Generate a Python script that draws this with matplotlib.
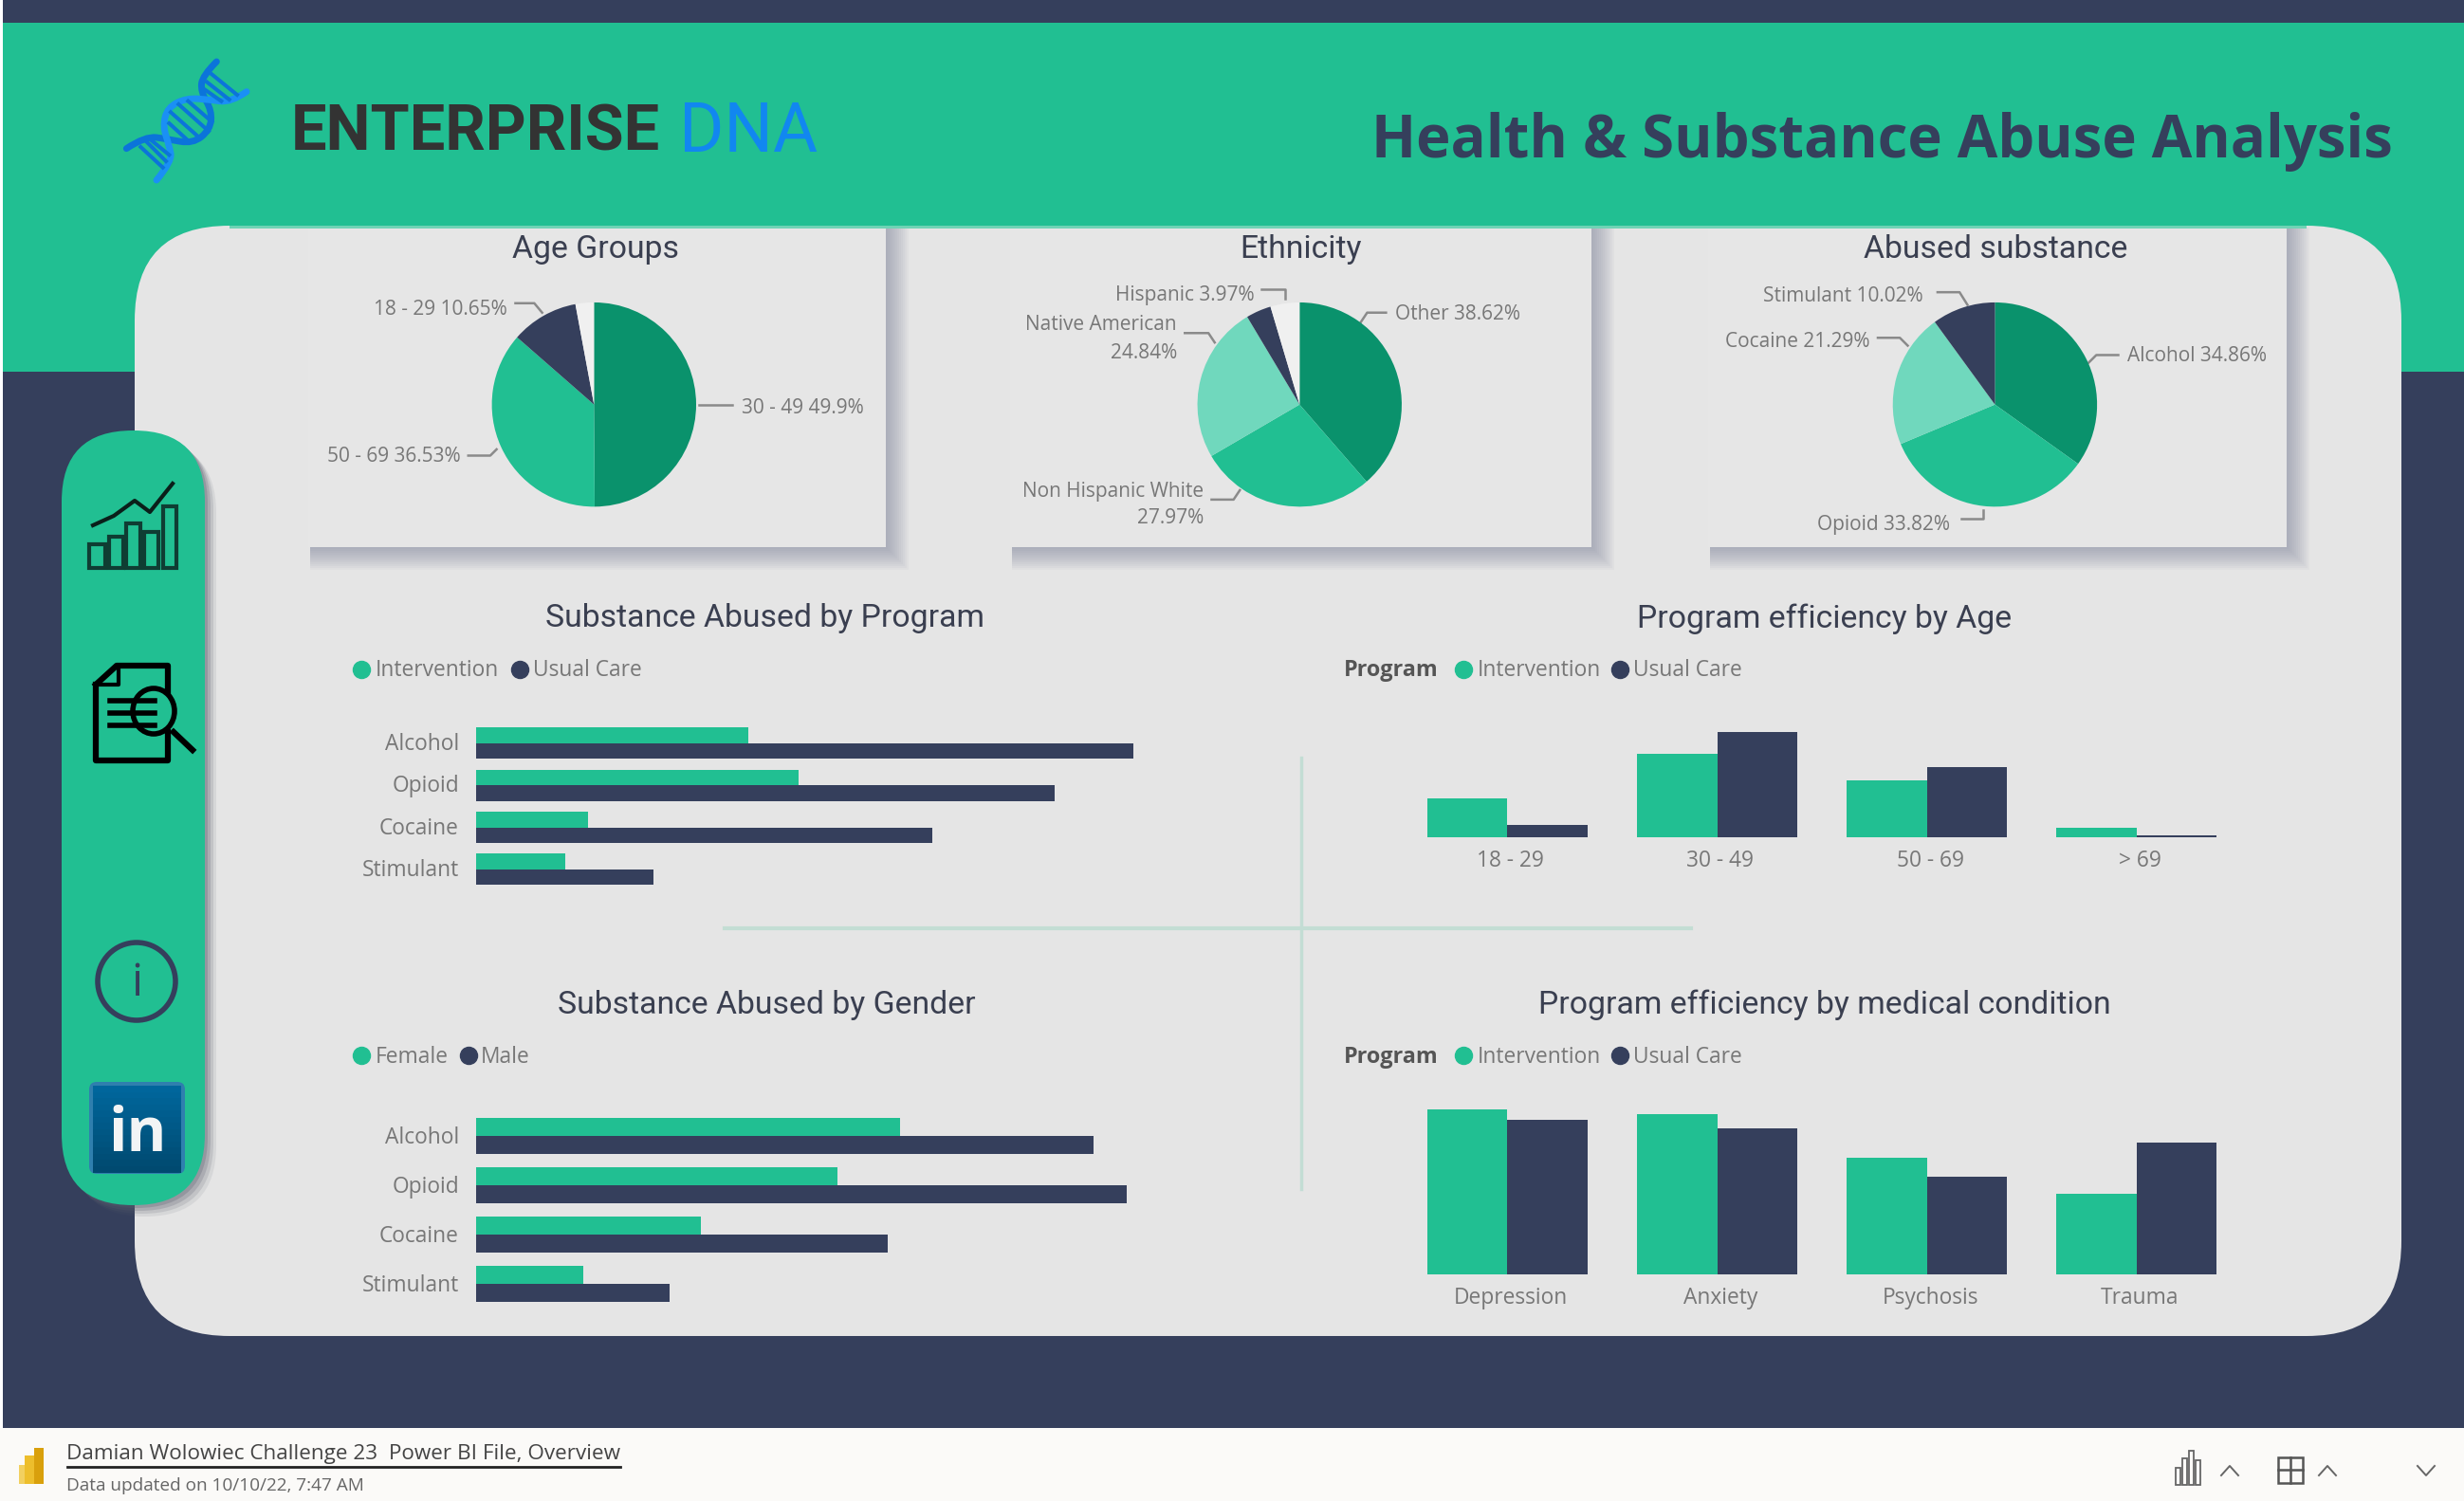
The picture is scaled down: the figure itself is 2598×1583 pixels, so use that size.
import numpy as np
import matplotlib
matplotlib.use("Agg")
import matplotlib.pyplot as plt
from matplotlib.patches import Rectangle, FancyBboxPatch, Ellipse, PathPatch
from matplotlib.path import Path
from matplotlib.transforms import ScaledTranslation

W, H = 2598, 1583
S = W / 1568  # the positions below were read on the 1568 wide view

NAVY = "#353F5C"
GREEN = "#21BF92"
DARK_GREEN = "#0A926C"
LIGHT_GREEN = "#70D8BD"
PANEL = "#E5E5E5"
GREY = "#777777"
TITLE = "#3A3F50"

# pies
age_labels = ["30 - 49", "50 - 69", "18 - 29", "> 69"]
age_values = [49.9, 36.53, 10.65, 2.92]
eth_labels = ["Other", "Non Hispanic White", "Native American", "Hispanic", "Unknown"]
eth_values = [38.62, 27.97, 24.84, 3.97, 4.6]
sub_labels = ["Alcohol", "Opioid", "Cocaine", "Stimulant"]
sub_values = [34.86, 33.82, 21.29, 10.02]

# bars (no axis in the picture, so values are relative lengths)
substances = ["Alcohol", "Opioid", "Cocaine", "Stimulant"]
prog_intervention = [173, 205, 71, 57]
prog_usual = [418, 368, 290, 113]
gender_female = [270, 230, 143, 68]
gender_male = [393, 414, 262, 123]
ages = ["18 - 29", "30 - 49", "50 - 69", "> 69"]
age_intervention = [25, 53, 36, 6]
age_usual = [8, 67, 45, 1]
conditions = ["Depression", "Anxiety", "Psychosis", "Trauma"]
cond_intervention = [105, 102, 74, 51]
cond_usual = [98, 93, 62, 84]

plt.rcParams["font.family"] = ["Open Sans", "DejaVu Sans"]

fig = plt.figure(figsize=(W / 100, H / 100), dpi=100)
bg = fig.add_axes([0, 0, 1, 1])
bg.set_xlim(0, W)
bg.set_ylim(H, 0)
bg.axis("off")


def px_axes(x0, y0, x1, y1):
    # axes from positions on the 1568 wide view
    return fig.add_axes([x0 * S / W, 1 - y1 * S / H, (x1 - x0) * S / W, (y1 - y0) * S / H])


def rect(x0, y0, x1, y1, color, **kw):
    bg.add_patch(Rectangle((x0, y0), x1 - x0, y1 - y0, fc=color, ec="none", **kw))


def round_rect(x0, y0, x1, y1, r, color, **kw):
    bg.add_patch(FancyBboxPatch((x0 + r, y0 + r), x1 - x0 - 2 * r, y1 - y0 - 2 * r,
                                boxstyle=f"round,pad={r},rounding_size={r}",
                                fc=color, ec="none", **kw))


def label(x, y, s, size=15, color=GREY, ha="left", **kw):
    bg.text(x * S, (y + 0.8) * S, s, fontsize=size, color=color, ha=ha, va="center", **kw)


def leader(xs, ys):
    bg.plot(np.array(xs) * S, np.array(ys) * S, color="#8A8A8A", lw=1.8)


def strand(points, color):
    # smooth curve through zoomed logo points
    p = [(110 + x / 3, 50 + y / 3) for x, y in points]
    verts = [p[0]]
    codes = [Path.MOVETO]
    for a, b in zip(p[1:-1], p[2:]):
        verts += [a, ((a[0] + b[0]) / 2, (a[1] + b[1]) / 2)]
        codes += [Path.CURVE3, Path.CURVE3]
    verts[-1] = p[-1]
    bg.add_patch(PathPatch(Path(verts, codes), fc="none", ec=color, lw=5, capstyle="round"))


# background bands
rect(0, 0, W, H, "#FFFFFF")
rect(3, 0, W, 24, NAVY)
rect(3, 24, W, 392, GREEN)
rect(3, 392, W, 1506, NAVY)
rect(0, 1506, W, H, "#FBFAF8")
round_rect(142, 238, 2532, 1409, 100, PANEL)

# side bar
for off, alpha in [(12, 0.10), (9, 0.16), (6, 0.22), (3, 0.28)]:
    round_rect(65 + off, 454 + off, 216 + off, 1271 + off, 75, "#5A5D6E", alpha=alpha)
round_rect(65, 454, 216, 1271, 75, GREEN)

# icons
for x0, x1, top in [(94, 111, 574), (115, 130, 566), (133, 148, 552), (152, 167, 561), (172, 186, 534)]:
    bg.add_patch(Rectangle((x0, top), x1 - x0, 599 - top, fc="none", ec="#0F3D33", lw=3))
bg.plot([98, 120, 142, 158, 182], [554, 544, 528, 540, 510], color="#0A1F1A", lw=3)

bg.plot([101, 123, 177, 177], [722, 702, 702, 730], color="black", lw=4.5)
bg.plot([101, 101, 177, 177], [722, 802, 802, 772], color="black", lw=4.5)
bg.plot([101, 125, 125], [722, 722, 702], color="black", lw=3)
for y in [739, 752, 765]:
    bg.plot([116, 163], [y, y], color="black", lw=4)
bg.add_patch(Ellipse((162, 750), 44, 48, fc="none", ec="black", lw=4))
bg.plot([183, 203], [772, 791], color="black", lw=4.5)

bg.add_patch(Ellipse((144, 1035), 82, 82, fc="none", ec=NAVY, lw=4))
bg.text(144, 1037, "i", fontsize=34, color=NAVY, ha="center", va="center")

round_rect(94, 1141, 195, 1238, 8, "#2F7FAE")
for i in range(14):
    shade = np.array([0x00, 0x66, 0x9C]) * (1 - i / 13) + np.array([0x00, 0x4A, 0x70]) * (i / 13)
    rect(98, 1145 + i * 6.5, 191, 1145 + (i + 1) * 6.5 + 0.5, shade / 255)
bg.text(145, 1197, "in", fontsize=46, fontweight="bold", color="#F2F4F5",
        ha="center", va="center", family="Open Sans")

# logo
rungs = [(340, 85, 420, 150), (325, 110, 395, 165), (320, 135, 370, 170),
         (265, 170, 340, 235), (235, 180, 330, 265), (210, 205, 300, 285), (205, 240, 265, 295),
         (150, 295, 205, 340), (135, 300, 195, 360), (115, 315, 185, 380)]
for x0, y0, x1, y1 in rungs:
    bg.plot([110 + x0 / 3, 110 + x1 / 3], [50 + y0 / 3, 50 + y1 / 3], color="#0B74DA", lw=2.9)
strand([(355, 45), (310, 90), (305, 140), (340, 200), (335, 260), (280, 305), (200, 290), (130, 280), (70, 320)], "#0B74DA")
strand([(450, 140), (400, 175), (330, 165), (260, 160), (200, 190), (185, 250), (205, 310), (215, 360), (165, 420)], "#1A90F5")

bg.text(307, 140, "ENTERPRISE", fontsize=48, fontweight="bold", color="#333333",
        va="center", family="Roboto")
bg.text(716, 140, "DNA", fontsize=52, color="#1187F0", va="center", family="Roboto")
bg.text(2523, 149, "Health & Substance Abuse Analysis", fontsize=44.4, fontweight="bold",
        color=NAVY, ha="right", va="center", family="Open Sans")

# cards with soft shadows
for x0, x1 in [(196, 564), (643, 1013), (1087, 1455)]:
    for off in range(24, 1, -2):
        rect(x0 * S + 2, 145 * S, x1 * S + off, 348 * S + off, "#7F849C", alpha=0.06)
    rect(x0 * S, 145 * S, x1 * S, 348 * S, "#E6E6E6")
rect(142 + 100, 238, 2532 - 100, 241, "#6FD3B5")

# divider lines
bg.plot(np.array([828, 828]) * S, np.array([482, 757]) * S, color="#C3DDD4", lw=2.5)
bg.plot(np.array([461, 1076]) * S, np.array([591, 591]) * S, color="#C3DDD4", lw=3)

# pies
pie_colors = [DARK_GREEN, GREEN, LIGHT_GREEN, NAVY, "#F0F0F0"]


def pie(cx, cy, values, colors):
    ax = px_axes(cx - 65, cy - 65, cx + 65, cy + 65)
    ax.pie(values, colors=colors, startangle=90, counterclock=False, radius=1,
           wedgeprops={"linewidth": 0}, normalize=True)
    ax.set_xlim(-1, 1)
    ax.set_ylim(-1, 1)


pie(378, 257.5, age_values, [DARK_GREEN, GREEN, NAVY, "#F0F0F0"])
pie(827, 257.5, eth_values, pie_colors)
pie(1269.5, 257.5, sub_values, pie_colors[:4])

size = 15
label(379, 158, "Age Groups", 24.3, TITLE, "center", family="Roboto")
label(828, 158, "Ethnicity", 24.3, TITLE, "center", family="Roboto")
label(1270, 158, "Abused substance", 24.3, TITLE, "center", family="Roboto")

label(323, 196, f"{age_labels[2]} {age_values[2]}%", size, ha="right")
leader([328, 340, 345], [193, 193, 199])
label(472, 259, f"{age_labels[0]} {age_values[0]}%", size)
leader([445, 466], [258, 258])
label(293, 290, f"{age_labels[1]} {age_values[1]}%", size, ha="right")
leader([298, 312, 316], [290, 290, 286])

label(798, 187, f"{eth_labels[3]} {eth_values[3]}%", size, ha="right")
leader([803, 818, 818], [184, 184, 190])
label(888, 199, f"{eth_labels[0]} {eth_values[0]}%", size)
leader([866, 870, 882], [205, 199, 199])
label(749, 206, eth_labels[2], size, ha="right")
label(749, 224, f"{eth_values[2]}%", size, ha="right")
leader([754, 769, 773], [212, 212, 218])
label(766, 312, eth_labels[1], size, ha="right")
label(766, 329, f"{eth_values[1]}%", size, ha="right")
leader([771, 785, 789], [318, 318, 312])

label(1224, 188, f"{sub_labels[3]} {sub_values[3]}%", size, ha="right")
leader([1233, 1247, 1252], [186, 186, 194])
label(1190, 217, f"{sub_labels[2]} {sub_values[2]}%", size, ha="right")
leader([1195, 1209, 1214], [215, 215, 220])
label(1354, 226, f"{sub_labels[0]} {sub_values[0]}%", size)
leader([1329, 1334, 1348], [231, 226, 226])
label(1241, 333, f"{sub_labels[1]} {sub_values[1]}%", size, ha="right")
leader([1248, 1262, 1262], [330, 330, 325])


# bar charts
def hbars(y_top, y_bot, first, second, shift):
    ax = px_axes(303, y_top, 753, y_bot)
    y = np.arange(4)
    h = 0.373
    ax.barh(y - h / 2, first, h, color=GREEN)
    ax.barh(y + h / 2, second, h, color=NAVY)
    ax.set_xlim(0, 450)
    ax.set_ylim(3.5, -0.5)
    ax.set_yticks(y, substances, fontsize=16.4, color=GREY)
    ax.set_xticks([])
    ax.tick_params(axis="y", length=0, pad=13)
    ax.patch.set_alpha(0)
    for lab in ax.get_yticklabels():
        lab.set_transform(lab.get_transform() + ScaledTranslation(0, shift / 100, fig.dpi_scale_trans))
    for sp in ax.spines.values():
        sp.set_visible(False)


def vbars(y_top, y_bot, ymax, cats, first, second):
    ax = px_axes(892.5, y_top, 1426.5, y_bot)
    x = np.arange(4)
    w = 0.382
    ax.bar(x - w / 2, first, w, color=GREEN)
    ax.bar(x + w / 2, second, w, color=NAVY)
    ax.set_ylim(0, ymax)
    ax.set_xlim(-0.5, 3.5)
    ax.set_xticks(x, cats, fontsize=16.4, color=GREY)
    ax.set_yticks([])
    ax.tick_params(axis="x", length=0, pad=9.5)
    ax.patch.set_alpha(0)
    for lab in ax.get_xticklabels():
        lab.set_transform(lab.get_transform() + ScaledTranslation(3.3 / 100, 0, fig.dpi_scale_trans))
    for sp in ax.spines.values():
        sp.set_visible(False)


hbars(459.6, 566.8, prog_intervention, prog_usual, 2.0)
hbars(707.3, 832.9, gender_female, gender_male, 1.0)
vbars(453, 533, 80, ages, age_intervention, age_usual)
vbars(696, 811, 115, conditions, cond_intervention, cond_usual)

label(487, 393, "Substance Abused by Program", 24.3, TITLE, "center", family="Roboto")
label(1161, 393, "Program efficiency by Age", 24.3, TITLE, "center", family="Roboto")
label(488, 639, "Substance Abused by Gender", 24.3, TITLE, "center", family="Roboto")
label(1161, 639, "Program efficiency by medical condition", 24.3, TITLE, "center", family="Roboto")


# legends
def legend(x, y, first, second, x2):
    bg.plot([x * S], [y * S], "o", color=GREEN, ms=13)
    label(x + 9, y, first, 16.4)
    bg.plot([x2 * S], [y * S], "o", color=NAVY, ms=13)
    label(x2 + 8, y, second, 16.4)


legend(230, 426, "Intervention", "Usual Care", 331)
legend(230, 672, "Female", "Male", 298)
legend(931, 426, "Intervention", "Usual Care", 1031)
legend(931, 672, "Intervention", "Usual Care", 1031)
label(855, 426, "Program", 16.8, "#555555", fontweight="bold")
label(855, 672, "Program", 16.8, "#555555", fontweight="bold")

# footer
rect(20, 1545, 30, 1565, "#F2D060")
rect(26, 1535, 36, 1565, "#EDBE2C")
rect(36, 1527, 46, 1565, "#D9A00C")
label(42.5, 925, "Damian Wolowiec Challenge 23  Power BI File, Overview", 16.2, "#444444")
bg.plot([71, 654], [1547, 1547], color="#222222", lw=2)
label(42.5, 945, "Data updated on 10/10/22, 7:47 AM", 13.7, "#666666")
for x0, top in [(2294, 1548), (2301, 1538), (2308, 1530), (2315, 1540)]:
    bg.add_patch(Rectangle((x0, top), 5, 1566 - top, fc="none", ec="#666666", lw=1.3))
bg.plot([2342, 2351, 2360], [1556, 1546, 1556], color="#666666", lw=1.4)
bg.add_patch(Rectangle((2402, 1537), 26, 27, fc="none", ec="#555555", lw=1.8))
bg.plot([2402, 2428], [1550, 1550], color="#555555", lw=1.8)
bg.plot([2415, 2415], [1537, 1564], color="#555555", lw=1.8)
bg.plot([2445, 2454, 2463], [1556, 1546, 1556], color="#666666", lw=1.4)
bg.plot([2549, 2558, 2567], [1546, 1556, 1546], color="#666666", lw=1.4)

fig.savefig("out.png", dpi=100)
